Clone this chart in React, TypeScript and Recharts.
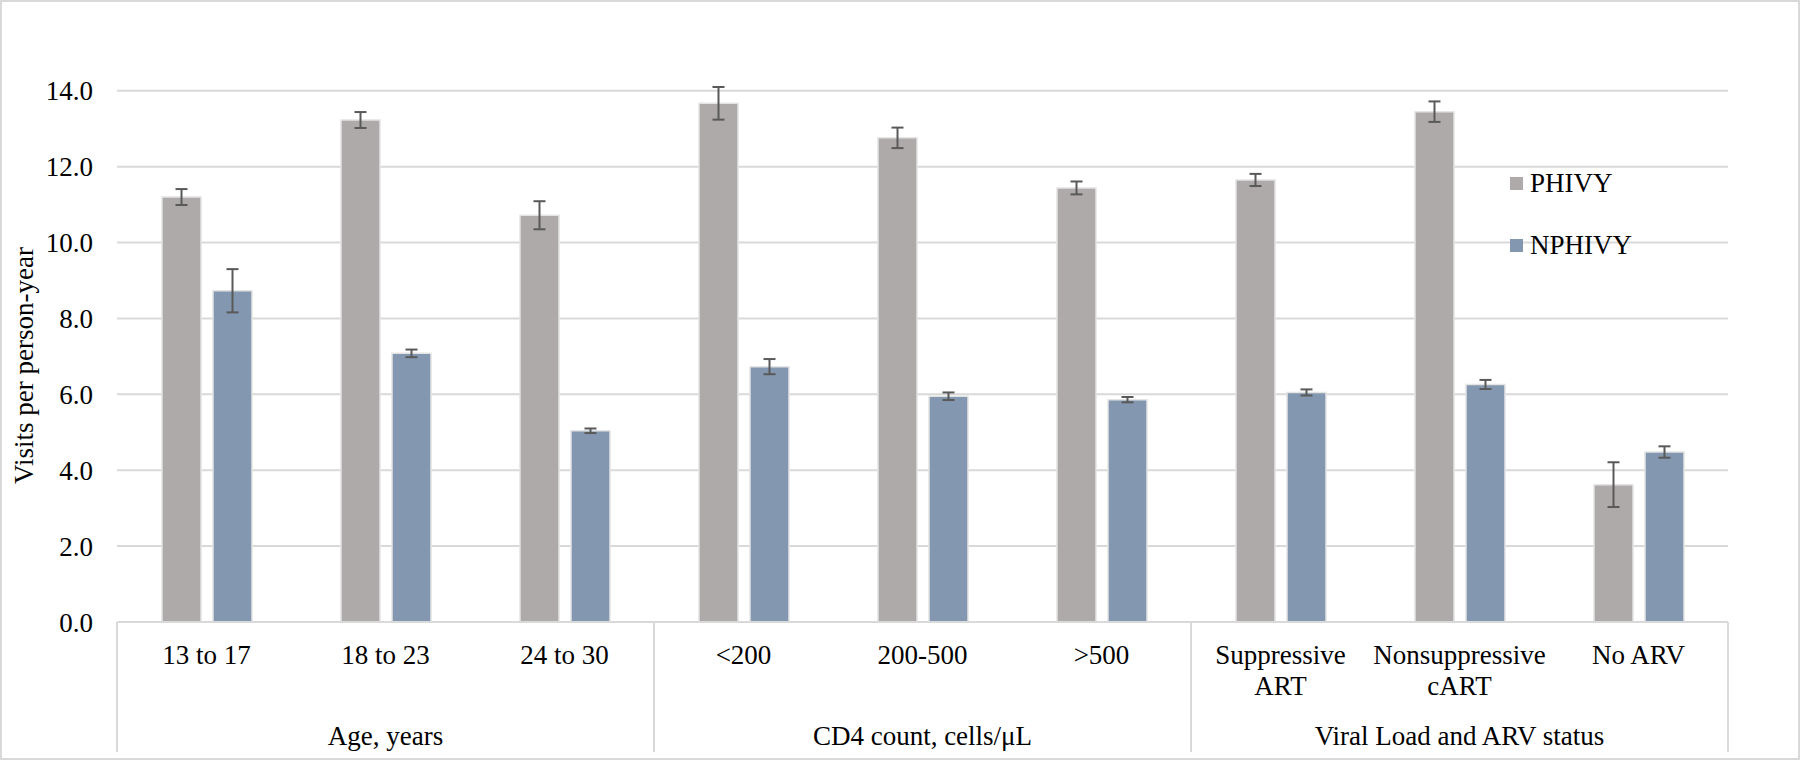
import { BarChart, Bar, XAxis, YAxis, CartesianGrid, ErrorBar, Legend } from "recharts"

const categories = [
  "13 to 17",
  "18 to 23",
  "24 to 30",
  "<200",
  "200-500",
  ">500",
  "Suppressive\nART",
  "Nonsuppressive\ncART",
  "No ARV",
]
const groupNames = ["Age, years", "CD4 count, cells/μL", "Viral Load and ARV status"]
const groupIndex = [0, 0, 0, 1, 1, 1, 2, 2, 2]

const phivy = [11.2, 13.23, 10.72, 13.67, 12.76, 11.44, 11.65, 13.45, 3.62]
const phivyErr = [0.21, 0.21, 0.37, 0.43, 0.27, 0.17, 0.16, 0.27, 0.59]
const nphivy = [8.73, 7.08, 5.04, 6.73, 5.95, 5.86, 6.05, 6.26, 4.48]
const nphivyErr = [0.57, 0.1, 0.06, 0.2, 0.1, 0.07, 0.08, 0.12, 0.15]

const yTicks = [0, 2, 4, 6, 8, 10, 12, 14]
const seriesNames = ["PHIVY", "NPHIVY"]

const FONT = '"Liberation Serif", "Times New Roman", serif'
const FONT_SIZE = 27
const GRAY = "#aeaaaa"
const BLUE = "#8497b0"
const LINE = "#d9d9d9"
const ERR = "#595959"

const chartData = categories.map((c, i) => ({
  category: c,
  phivy: phivy[i],
  phivyErr: phivyErr[i],
  nphivy: nphivy[i],
  nphivyErr: nphivyErr[i],
}))

// category label + group label + group separators, all drawn from the band scale
const CategoryTick = (props: any) => {
  const { x, y, payload, index, width, visibleTicksCount } = props
  const half = payload.offset ?? width / visibleTicksCount / 2
  const lines = String(payload.value).split("\n")
  const g = groupIndex[index]
  const isFirst = index === 0 || groupIndex[index - 1] !== g
  const isLast = index === categories.length - 1
  const count = groupIndex.filter((v) => v === g).length

  return (
    <g>
      {lines.map((l, k) => (
        <text key={k} x={x} y={y + 42 + k * 31} textAnchor="middle" fontFamily={FONT} fontSize={FONT_SIZE} fill="#000">
          {l}
        </text>
      ))}
      {isFirst && <line x1={x - half} x2={x - half} y1={y} y2={y + 130} stroke={LINE} strokeWidth={2} />}
      {isFirst && (
        <text x={x - half + count * half} y={y + 123} textAnchor="middle" fontFamily={FONT} fontSize={FONT_SIZE} fill="#000">
          {groupNames[g]}
        </text>
      )}
      {isLast && <line x1={x + half} x2={x + half} y1={y} y2={y + 130} stroke={LINE} strokeWidth={2} />}
    </g>
  )
}

const YLabel = ({ viewBox }: any) => {
  const cx = 33
  const cy = viewBox.y + viewBox.height / 2 + 11
  return (
    <text
      x={cx}
      y={cy}
      textAnchor="middle"
      transform={`rotate(-90, ${cx}, ${cy})`}
      fontFamily={FONT}
      fontSize={FONT_SIZE}
      fill="#000"
    >
      Visits per person-year
    </text>
  )
}

const LegendBox = () => (
  <svg width={220} height={110}>
    {seriesNames.map((name, i) => (
      <g key={name}>
        <rect x={5} y={17 + i * 62} width={13} height={13} fill={i === 0 ? GRAY : BLUE} />
        <text x={25} y={32 + i * 62} fontFamily={FONT} fontSize={FONT_SIZE} fill="#000">
          {name}
        </text>
      </g>
    ))}
  </svg>
)

export default function App() {
  return (
    <div style={{ position: "relative", width: 1800, height: 760, background: "#fff" }}>
      <style>{`body { margin: 0; }`}</style>
      <BarChart
        width={1800}
        height={760}
        data={chartData}
        margin={{ top: 87, right: 72, bottom: 0, left: 0 }}
        barSize={39}
        barGap={12}
      >
        <CartesianGrid vertical={false} stroke={LINE} strokeWidth={2} syncWithTicks />
        <XAxis
          dataKey="category"
          interval={0}
          height={138}
          tickLine={false}
          tickSize={0}
          tickMargin={0}
          axisLine={{ stroke: LINE, strokeWidth: 2 }}
          tick={<CategoryTick />}
        />
        <YAxis
          width={117}
          domain={[0, 14]}
          ticks={yTicks}
          interval={0}
          tickFormatter={(v: number) => v.toFixed(1)}
          axisLine={false}
          tickLine={false}
          tickSize={0}
          tickMargin={24}
          tick={{ fontFamily: FONT, fontSize: FONT_SIZE, fill: "#000" }}
          label={<YLabel />}
        />
        <Legend
          layout="horizontal"
          verticalAlign="middle"
          align="center"
          wrapperStyle={{ position: "absolute", left: 1505, top: 160, width: 220, height: 110 }}
          content={<LegendBox />}
        />
        <Bar dataKey="phivy" name="PHIVY" fill={GRAY} stroke="#e4e4e4" strokeWidth={1.5} isAnimationActive={false}>
          <ErrorBar dataKey="phivyErr" width={6} stroke={ERR} strokeWidth={2} direction="y" isAnimationActive={false} />
        </Bar>
        <Bar dataKey="nphivy" name="NPHIVY" fill={BLUE} stroke="#e4e4e4" strokeWidth={1.5} isAnimationActive={false}>
          <ErrorBar dataKey="nphivyErr" width={6} stroke={ERR} strokeWidth={2} direction="y" isAnimationActive={false} />
        </Bar>
      </BarChart>
      <div
        style={{
          position: "absolute",
          left: 0,
          top: 0,
          width: 1800,
          height: 760,
          boxSizing: "border-box",
          border: `2px solid ${LINE}`,
          pointerEvents: "none",
        }}
      />
    </div>
  )
}
